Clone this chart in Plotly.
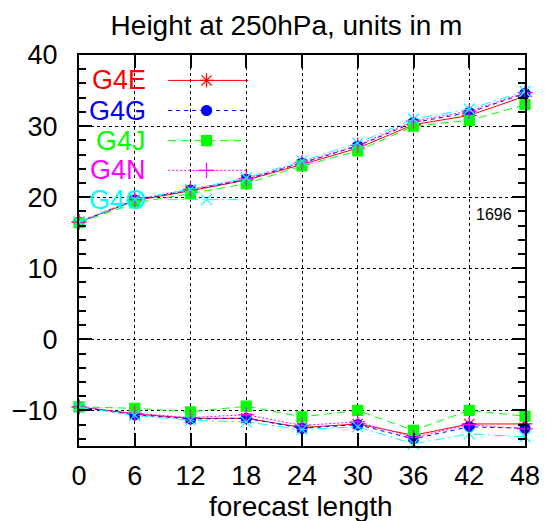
import plotly.graph_objects as go

# ---------------- data ----------------
lead = [0, 6, 12, 18, 24, 30, 36, 42, 48]
models = ["G4E", "G4G", "G4J", "G4N", "G4O"]

upper = {
    "G4E": [16.5, 19.5, 20.9, 22.4, 24.6, 26.9, 30.2, 31.5, 34.2],
    "G4G": [16.5, 19.6, 21.0, 22.5, 24.8, 27.2, 30.5, 31.9, 34.6],
    "G4J": [16.4, 19.2, 20.5, 21.9, 24.4, 26.5, 30.0, 30.8, 33.0],
    "G4N": [16.5, 19.7, 21.1, 22.6, 24.9, 27.3, 30.7, 32.1, 34.7],
    "G4O": [16.5, 19.7, 21.1, 22.7, 25.1, 27.6, 31.0, 32.4, 34.9],
}
lower = {
    "G4E": [-9.5, -10.5, -11.1, -11.1, -12.4, -11.9, -13.5, -11.9, -11.9],
    "G4G": [-9.5, -10.6, -11.2, -11.1, -12.5, -12.0, -14.0, -12.3, -12.5],
    "G4J": [-9.5, -9.7, -10.2, -9.4, -10.9, -10.0, -12.8, -10.0, -10.8],
    "G4N": [-9.5, -10.4, -11.0, -10.6, -12.1, -11.6, -13.8, -12.0, -12.6],
    "G4O": [-9.5, -10.7, -11.4, -11.6, -12.7, -12.3, -14.7, -13.3, -13.7],
}
x_ticks = [0, 6, 12, 18, 24, 30, 36, 42, 48]
y_ticks = [-10, 0, 10, 20, 30, 40]
sample_count = "1696"

# ---------------- styles ----------------
style = {
    "G4E": dict(color="#ff0000", dash="solid", symbol="asterisk-open", size=12),
    "G4G": dict(color="#0000ff", dash="4px,4px", symbol="circle", size=10),
    "G4J": dict(color="#00ff00", dash="8px,5px", symbol="square", size=10),
    "G4N": dict(color="#ff00ff", dash="2px,2px", symbol="cross-thin-open", size=11),
    "G4O": dict(color="#00ffff", dash="10px,4px,2px,4px", symbol="x-thin-open", size=11),
}

FONT = "Liberation Sans, Arial, sans-serif"
fig = go.Figure()

for m in models:
    s = style[m]
    for series in (upper[m], lower[m]):
        fig.add_trace(go.Scatter(
            x=lead, y=series, mode="lines+markers", showlegend=False,
            line=dict(color=s["color"], width=1, dash=s["dash"]),
            marker=dict(symbol=s["symbol"], size=s["size"], color=s["color"],
                        line=dict(color=s["color"], width=1.2)),
            cliponaxis=False,
        ))

# ---------------- custom gnuplot-like key (overlay axes in 0..1 units) ----------------
key_rows = [0.935, 0.858, 0.781, 0.705, 0.630]
for m, yr in zip(models, key_rows):
    s = style[m]
    fig.add_trace(go.Scatter(
        x=[0.2, 0.286, 0.379], y=[yr, yr, yr], xaxis="x2", yaxis="y2",
        mode="lines", showlegend=False, hoverinfo="skip",
        line=dict(color=s["color"], width=1, dash=s["dash"]),
    ))
    fig.add_trace(go.Scatter(
        x=[0.286], y=[yr], xaxis="x2", yaxis="y2", mode="markers",
        showlegend=False, hoverinfo="skip",
        marker=dict(symbol=s["symbol"], size=s["size"], color=s["color"],
                    line=dict(color=s["color"], width=1.2)),
    ))
    fig.add_annotation(x=0.155, y=yr, xref="x2", yref="y2", text=m,
                       showarrow=False, xanchor="right", yanchor="middle",
                       font=dict(family=FONT, size=27, color=s["color"]))

# white key box hiding the grid behind the key
fig.add_shape(type="rect", xref="paper", yref="paper", x0=0.004, x1=0.408,
              y0=0.598, y1=0.996, fillcolor="white", line=dict(width=0),
              layer="between")

fig.add_annotation(x=0.976, y=0.591, xref="paper", yref="paper", text=sample_count,
                   showarrow=False, xanchor="right", yanchor="middle",
                   font=dict(family=FONT, size=16, color="black"))

fig.add_annotation(x=0.497, y=-(507 - 446) / 391, xref="paper", yref="paper",
                   text="forecast length",
                   showarrow=False, xanchor="center", yanchor="middle",
                   font=dict(family=FONT, size=28, color="black"))

axis_common = dict(
    showline=True, linecolor="black", linewidth=2, mirror="ticks",
    ticks="inside", ticklen=13, tickwidth=2, tickcolor="black",
    showgrid=True, gridcolor="black", gridwidth=1, griddash="dot",
    zeroline=False, tickfont=dict(family=FONT, size=27, color="black"),
)

fig.update_layout(
    width=552, height=521,
    margin=dict(l=78, r=23, t=55, b=75),
    paper_bgcolor="white", plot_bgcolor="white",
    title=dict(text="Height at 250hPa, units in m", x=0.519, xanchor="center",
               y=1 - 25 / 521, yanchor="middle",
               font=dict(family=FONT, size=28, color="black")),
    xaxis=dict(range=[0, 48], tickvals=x_ticks, ticklabelstandoff=5, **axis_common),
    yaxis=dict(range=[-15, 40], tickvals=y_ticks, ticklabelstandoff=14,
               minor=dict(dtick=2, ticklen=7, tickwidth=2, tickcolor="black",
                          ticks="inside", showgrid=False),
               **axis_common),
    xaxis2=dict(overlaying="x", range=[0, 1], visible=False, domain=[0, 1]),
    yaxis2=dict(overlaying="y", range=[0, 1], visible=False),
)

fig.write_html("out.html")
